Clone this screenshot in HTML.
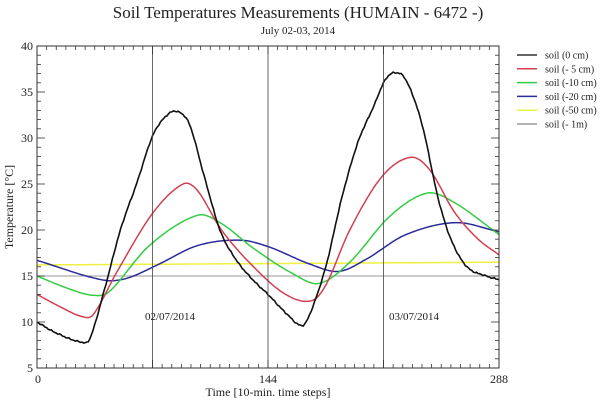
<!DOCTYPE html>
<html><head><meta charset="utf-8"><style>
body{margin:0;background:#fff;}
svg text{font-family:"Liberation Serif",serif;fill:#222;}
</style></head><body>
<svg id="s" width="600" height="400" xmlns="http://www.w3.org/2000/svg">
<text x="298" y="18" font-size="17" text-anchor="middle">Soil Temperatures Measurements (HUMAIN - 6472 -)</text>
<text x="298" y="34" font-size="11" text-anchor="middle">July 02-03, 2014</text>
<g id="plot"></g>
<rect x="37" y="46" width="462" height="322" fill="none" stroke="#333" stroke-width="1"/>
<line x1="152.5" y1="46" x2="152.5" y2="368" stroke="#444" stroke-width="0.8"/>
<line x1="268" y1="46" x2="268" y2="368" stroke="#444" stroke-width="0.8"/>
<line x1="383.5" y1="46" x2="383.5" y2="368" stroke="#444" stroke-width="0.8"/>
<text x="170" y="320" font-size="11" text-anchor="middle">02/07/2014</text>
<text x="414" y="320" font-size="11" text-anchor="middle">03/07/2014</text>
<text x="38" y="383" font-size="12" text-anchor="middle">0</text>
<text x="268" y="383" font-size="12" text-anchor="middle">144</text>
<text x="499" y="383" font-size="12" text-anchor="middle">288</text>
<text x="268" y="396" font-size="12" text-anchor="middle">Time [10-min. time steps]</text>
<text transform="translate(13,207) rotate(-90)" font-size="12" text-anchor="middle">Temperature [°C]</text>
</svg>
<script>
const X=t=>37+t*462/288, Y=v=>368-(v-5)*9.2;
const NS="http://www.w3.org/2000/svg";
function el(n,a,p){const e=document.createElementNS(NS,n);for(const k in a)e.setAttribute(k,a[k]);p.appendChild(e);return e;}
const s=document.getElementById('s');
for(let v=5;v<=40;v++){const y=Y(v),l=v%5==0?8:4;el('line',{x1:37,y1:y,x2:37+l,y2:y,stroke:'#333','stroke-width':0.8},s);el('line',{x1:499,y1:y,x2:499-l,y2:y,stroke:'#333','stroke-width':0.8},s);
 if(v%5==0){const t=el('text',{x:33,y:y+4,'font-size':12,'text-anchor':'end'},s);t.textContent=v;}}
for(let t=0;t<=288;t+=6){const x=X(t),l=t%72==0?8:4;el('line',{x1:x,y1:368,x2:x,y2:368-l,stroke:'#333','stroke-width':0.8},s);el('line',{x1:x,y1:46,x2:x,y2:46+l,stroke:'#333','stroke-width':0.8},s);}
const series=[
['#999',[[0,15],[288,15]]],
['#f0f040',[[0,16.2],[288,16.5]]],
['#2a2a9a',[[0,16.7],[40,14.6],[55,14.7],[75,16.2],[100,18.3],[126,18.9],[144,18.2],[170,16.3],[188,15.5],[205,16.8],[230,19.5],[261,20.8],[288,19.8]]],
['#33cc44',[[0,15],[20,13.6],[35,12.9],[45,13.3],[70,18.3],[100,21.6],[115,20.7],[135,18],[160,15.2],[176,14.2],[195,16.5],[220,21.5],[243,24],[260,23],[288,19.5]]],
['#d04050',[[0,13],[15,11.6],[28,10.6],[35,10.8],[50,15.5],[72,21.8],[91,25],[100,24.3],[115,20],[135,16],[155,13],[171,12.3],[180,14],[195,20],[215,25.8],[233,27.9],[245,26.5],[260,22],[275,19],[288,17.3]]],
['#111',[[0,10],[12,8.8],[28,7.8],[33,8.2],[42,13.5],[52,20],[62,25],[72,30.2],[80,32.3],[87,32.9],[95,31.5],[104,26],[114,20],[124,16.8],[135,14.5],[144,13],[155,11],[165,9.6],[170,10.8],[180,16],[190,23.5],[200,29.5],[210,33.5],[217,36.3],[223,37.1],[230,36.3],[240,31.5],[250,23.5],[258,19],[268,16],[280,15],[288,14.6]]]
];
const g=document.getElementById('plot');
series.forEach(([c,p])=>{
 let d='';
 for(let t=0;t<=288;t+=1){
  let i=0;while(i<p.length-2&&p[i+1][0]<t)i++;
  const p0=p[Math.max(i-1,0)],p1=p[i],p2=p[i+1],p3=p[Math.min(i+2,p.length-1)];
  const u=(t-p1[0])/(p2[0]-p1[0]);
  const m1=(p2[1]-p0[1])/(p2[0]-p0[0])*(p2[0]-p1[0]),m2=(p3[1]-p1[1])/(p3[0]-p1[0])*(p2[0]-p1[0]);
  const h00=2*u*u*u-3*u*u+1,h10=u*u*u-2*u*u+u,h01=-2*u*u*u+3*u*u,h11=u*u*u-u*u;
  let v=h00*p1[1]+h10*m1+h01*p2[1]+h11*m2;
  if(c=='#111')v+=0.05*Math.sin(t*2.3)+0.04*Math.sin(t*5.1);
  d+=(t?'L':'M')+X(t).toFixed(1)+' '+Y(v).toFixed(1);
 }
 el('path',{d:d,fill:'none',stroke:c,'stroke-width':c=='#111'?1.6:(c=='#999'?1:1.5)},g);
});
const leg=[['#333','soil (0 cm)'],['#d04050','soil (- 5 cm)'],['#33cc44','soil (-10 cm)'],['#2a2a9a','soil (-20 cm)'],['#f0f040','soil (-50 cm)'],['#999','soil (- 1m)']];
leg.forEach(([c,t],i)=>{const y=55+i*13.8;el('line',{x1:517,y1:y,x2:537,y2:y,stroke:c,'stroke-width':1.5},s);const e=el('text',{x:545,y:y+3.5,'font-size':10},s);e.textContent=t;});
</script>
</body></html>
